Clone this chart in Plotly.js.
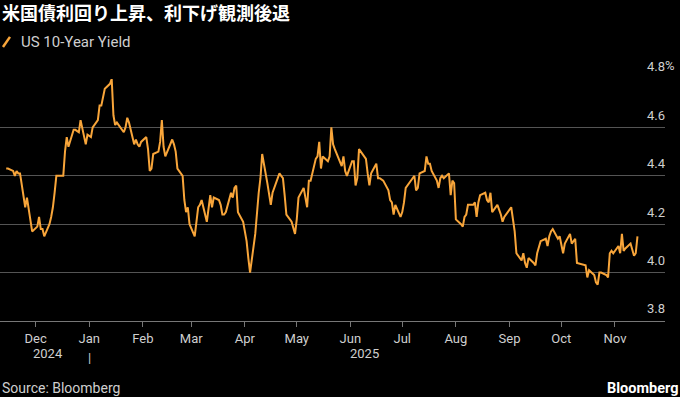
<!DOCTYPE html>
<html>
<head>
<meta charset="utf-8">
<script src="https://cdn.plot.ly/plotly-3.0.1.min.js"></script>
<style>
  html, body { margin: 0; padding: 0; background: #000; }
  #chart { width: 680px; height: 397px; }
</style>
</head>
<body>
<div id="chart"></div>
<script>
// ---- Data ----
const dates = [
  "2024-11-14","2024-11-15","2024-11-18","2024-11-19","2024-11-20","2024-11-21","2024-11-22","2024-11-25","2024-11-26","2024-11-27","2024-11-29",
  "2024-12-02","2024-12-03","2024-12-04","2024-12-05","2024-12-06","2024-12-09","2024-12-10","2024-12-11","2024-12-12","2024-12-13",
  "2024-12-16","2024-12-17","2024-12-18","2024-12-19","2024-12-20","2024-12-23","2024-12-24","2024-12-26","2024-12-27","2024-12-30","2024-12-31",
  "2025-01-02","2025-01-03","2025-01-06","2025-01-07","2025-01-08","2025-01-10","2025-01-13","2025-01-14","2025-01-15","2025-01-16","2025-01-17",
  "2025-01-21","2025-01-22","2025-01-23","2025-01-24","2025-01-27","2025-01-28","2025-01-29","2025-01-30","2025-01-31",
  "2025-02-03","2025-02-04","2025-02-05","2025-02-06","2025-02-07","2025-02-10","2025-02-11","2025-02-12","2025-02-13","2025-02-14",
  "2025-02-18","2025-02-19","2025-02-20","2025-02-21","2025-02-24","2025-02-25","2025-02-26","2025-02-27","2025-02-28",
  "2025-03-03","2025-03-04","2025-03-05","2025-03-06","2025-03-07","2025-03-10","2025-03-11","2025-03-12","2025-03-13","2025-03-14",
  "2025-03-17","2025-03-18","2025-03-19","2025-03-20","2025-03-21","2025-03-24","2025-03-25","2025-03-26","2025-03-27","2025-03-28","2025-03-31",
  "2025-04-01","2025-04-02","2025-04-03","2025-04-04","2025-04-07","2025-04-08","2025-04-09","2025-04-10","2025-04-11",
  "2025-04-14","2025-04-15","2025-04-16","2025-04-17","2025-04-21","2025-04-22","2025-04-23","2025-04-24","2025-04-25","2025-04-28","2025-04-29","2025-04-30",
  "2025-05-01","2025-05-02","2025-05-05","2025-05-06","2025-05-07","2025-05-08","2025-05-09","2025-05-12","2025-05-13","2025-05-14","2025-05-15","2025-05-16",
  "2025-05-19","2025-05-20","2025-05-21","2025-05-22","2025-05-23","2025-05-27","2025-05-28","2025-05-29","2025-05-30",
  "2025-06-02","2025-06-03","2025-06-04","2025-06-05","2025-06-06","2025-06-09","2025-06-10","2025-06-11","2025-06-12","2025-06-13",
  "2025-06-16","2025-06-17","2025-06-18","2025-06-20","2025-06-23","2025-06-24","2025-06-25","2025-06-26","2025-06-27","2025-06-30",
  "2025-07-01","2025-07-02","2025-07-03","2025-07-07","2025-07-08","2025-07-09","2025-07-10","2025-07-11","2025-07-14","2025-07-15","2025-07-16","2025-07-17","2025-07-18",
  "2025-07-21","2025-07-22","2025-07-23","2025-07-24","2025-07-25","2025-07-28","2025-07-29","2025-07-30","2025-07-31",
  "2025-08-01","2025-08-04","2025-08-05","2025-08-06","2025-08-07","2025-08-08","2025-08-11","2025-08-12","2025-08-13","2025-08-14","2025-08-15",
  "2025-08-18","2025-08-19","2025-08-20","2025-08-21","2025-08-22","2025-08-25","2025-08-26","2025-08-27","2025-08-28","2025-08-29",
  "2025-09-02","2025-09-03","2025-09-04","2025-09-05","2025-09-08","2025-09-09","2025-09-10","2025-09-11","2025-09-12",
  "2025-09-15","2025-09-16","2025-09-17","2025-09-18","2025-09-19","2025-09-22","2025-09-23","2025-09-24","2025-09-25","2025-09-26","2025-09-29","2025-09-30",
  "2025-10-01","2025-10-02","2025-10-03","2025-10-06","2025-10-07","2025-10-08","2025-10-09","2025-10-10","2025-10-14","2025-10-15","2025-10-16","2025-10-17",
  "2025-10-20","2025-10-21","2025-10-22","2025-10-23","2025-10-24","2025-10-27","2025-10-28","2025-10-29","2025-10-30","2025-10-31",
  "2025-11-03","2025-11-04","2025-11-05","2025-11-06","2025-11-07","2025-11-10","2025-11-12","2025-11-13","2025-11-14"
];
const yields = [
  4.43,4.43,4.42,4.40,4.42,4.41,4.41,4.27,4.31,4.26,4.17,
  4.19,4.23,4.18,4.18,4.15,4.20,4.23,4.27,4.33,4.40,
  4.40,4.40,4.50,4.56,4.52,4.59,4.59,4.58,4.63,4.53,4.57,
  4.56,4.60,4.63,4.69,4.69,4.76,4.78,4.80,4.65,4.61,4.62,
  4.58,4.60,4.64,4.62,4.53,4.55,4.53,4.52,4.54,
  4.56,4.51,4.42,4.43,4.49,4.50,4.54,4.63,4.52,4.48,
  4.55,4.53,4.50,4.43,4.40,4.30,4.25,4.27,4.20,
  4.15,4.22,4.27,4.28,4.30,4.21,4.28,4.32,4.27,4.31,
  4.30,4.28,4.24,4.24,4.25,4.33,4.31,4.35,4.36,4.25,4.21,
  4.17,4.13,4.06,4.00,4.16,4.26,4.33,4.39,4.49,
  4.37,4.33,4.28,4.33,4.41,4.40,4.39,4.32,4.24,4.21,4.18,4.16,
  4.22,4.31,4.35,4.30,4.27,4.38,4.38,4.47,4.48,4.54,4.43,4.48,
  4.46,4.48,4.60,4.53,4.51,4.44,4.48,4.42,4.40,
  4.46,4.46,4.36,4.39,4.51,4.48,4.47,4.41,4.36,4.41,
  4.45,4.39,4.39,4.38,4.34,4.30,4.29,4.24,4.28,4.23,
  4.25,4.29,4.35,4.39,4.40,4.34,4.35,4.41,4.42,4.48,4.45,4.45,4.42,
  4.38,4.35,4.39,4.40,4.39,4.41,4.32,4.38,4.37,
  4.22,4.20,4.19,4.23,4.24,4.28,4.28,4.29,4.23,4.29,4.32,
  4.33,4.30,4.29,4.33,4.25,4.28,4.26,4.24,4.21,4.23,
  4.27,4.21,4.17,4.08,4.05,4.08,4.04,4.02,4.06,
  4.04,4.03,4.08,4.11,4.13,4.14,4.11,4.15,4.17,4.18,4.14,4.15,
  4.12,4.08,4.12,4.16,4.12,4.13,4.14,4.04,4.03,4.03,3.98,4.01,
  3.99,3.96,3.95,4.00,4.00,3.99,3.98,4.08,4.09,4.08,
  4.11,4.08,4.16,4.09,4.10,4.12,4.07,4.08,4.15
];
const monthTicks = ["2024-12-01","2025-01-01","2025-02-01","2025-03-01","2025-04-01","2025-05-01","2025-06-01","2025-07-01","2025-08-01","2025-09-01","2025-10-01","2025-11-01"];
const monthLabels = ["Dec","Jan","Feb","Mar","Apr","May","Jun","Jul","Aug","Sep","Oct","Nov"];
const yTicks = [3.8, 4.0, 4.2, 4.4, 4.6, 4.8];
const yLabels = ["3.8", "4.0", "4.2", "4.4", "4.6", "4.8"];
const yearLabels = ["2024", "2025"];
const yearPositions = ["2024-12-08", "2025-06-09"];
const yearBoundary = "2025-01-01";
const seriesName = "US 10-Year Yield";
const titleText = "米国債利回り上昇、利下げ観測後退";
const sourceText = "Source: Bloomberg";
const brandText = "Bloomberg";

// ---- Styles ----
const ORANGE = "#f8a53a";
const GRID = "#545454";
const TXT = "#cfcfcf";
const FONT = "Roboto, 'Noto Sans', sans-serif";
const CJK = "'Noto Sans CJK JP', 'Noto Sans', sans-serif";

const trace = {
  x: dates, y: yields, type: "scatter", mode: "lines", name: seriesName,
  line: { color: ORANGE, width: 2 }, hoverinfo: "skip"
};

const annotations = [
  { text: "<b>" + titleText + "</b>", xref: "paper", yref: "paper", x: 0, y: 1.275,
    xanchor: "left", yanchor: "middle", showarrow: false,
    font: { family: CJK, size: 18, color: "#ffffff" } },
  { text: seriesName, xref: "paper", yref: "paper", x: 0.029, y: 1.151,
    xanchor: "left", yanchor: "middle", showarrow: false,
    font: { family: FONT, size: 15, color: TXT } },
  { text: "%", xref: "paper", yref: "y", x: 1.0, y: 4.8, xanchor: "left", yanchor: "bottom",
    xshift: -2, yshift: 4, showarrow: false, font: { family: FONT, size: 13, color: TXT } },
  { text: sourceText, xref: "paper", yref: "paper", x: 0, y: -0.277,
    xanchor: "left", yanchor: "middle", showarrow: false,
    font: { family: FONT, size: 14, color: TXT } },
  { text: "<b>" + brandText + "</b>", xref: "paper", yref: "paper", x: 1.0225, y: -0.277,
    xanchor: "right", yanchor: "middle", showarrow: false,
    font: { family: FONT, size: 14.5, color: "#ffffff" } },
  { text: "|", xref: "x", yref: "paper", x: yearBoundary, y: -0.152,
    xanchor: "center", yanchor: "middle", showarrow: false,
    font: { family: FONT, size: 13, color: TXT } }
];
yearLabels.forEach((t, i) => annotations.push({
  text: t, xref: "x", yref: "paper", x: yearPositions[i], y: -0.134,
  xanchor: "center", yanchor: "middle", showarrow: false,
  font: { family: FONT, size: 13, color: TXT }
}));

const layout = {
  width: 680, height: 397,
  paper_bgcolor: "#000000", plot_bgcolor: "#000000",
  margin: { l: 0, r: 15, t: 79, b: 76, pad: 0 },
  showlegend: false,
  xaxis: {
    type: "date", range: ["2024-11-10 10:00", "2025-11-29 22:00"],
    tickmode: "array", tickvals: monthTicks, ticktext: monthLabels,
    ticks: "outside", ticklen: 5, tickwidth: 1, tickcolor: "#777777",
    showline: true, linecolor: "#777777", linewidth: 1,
    showgrid: false, zeroline: false, fixedrange: true,
    tickfont: { family: FONT, size: 13, color: TXT }
  },
  yaxis: {
    side: "right", range: [3.8, 4.8],
    tickmode: "array", tickvals: yTicks, ticktext: yLabels,
    ticklabelposition: "inside top", ticklabeloverflow: "allow",
    ticklabelshift: -3, ticklabelstandoff: -3,
    ticks: "", showline: false, zeroline: false,
    showgrid: true, gridcolor: GRID, gridwidth: 1, fixedrange: true,
    tickfont: { family: FONT, size: 13, color: TXT }
  },
  annotations: annotations,
  shapes: [
    { type: "line", xref: "paper", yref: "paper", x0: 0.0045, y0: 1.132, x1: 0.015, y1: 1.174,
      line: { color: ORANGE, width: 2.5 } }
  ]
};

Plotly.newPlot("chart", [trace], layout, { displayModeBar: false, staticPlot: true });
</script>
</body>
</html>
